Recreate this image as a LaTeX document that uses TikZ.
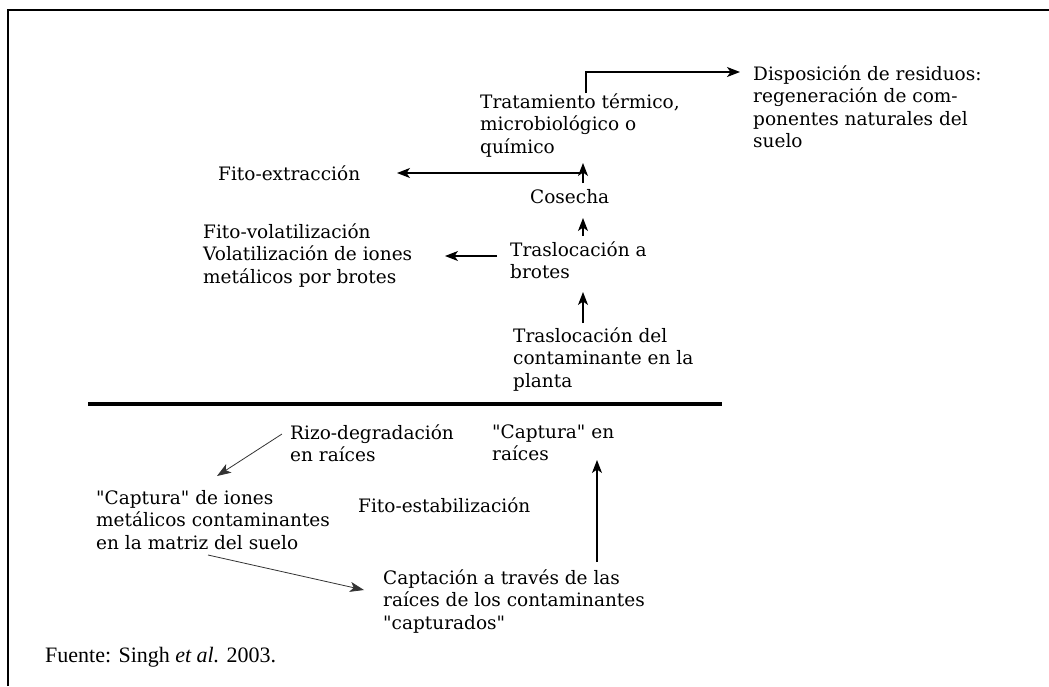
\documentclass[tikz,border=0pt]{standalone}
\usepackage{fontspec}
% plain families: straight double quotes are kept as typed
\newfontfamily\labelfont{DejaVu Serif}
\newfontfamily\srcfont{Liberation Serif}
\usetikzlibrary{arrows.meta,calc}
% uniform height for the first line of every label
\newcommand{\topstrut}{\rule{0pt}{17pt}}
\begin{document}
\begin{tikzpicture}[x=1pt,y=-1pt,
  lbl/.style={inner sep=0pt, anchor=north west, align=left,
              font=\labelfont\fontsize{18.5}{22.5}\selectfont},
  arr/.style={line width=1.2pt, -{Stealth[length=13pt,width=10pt,inset=3.5pt]}},
  slant/.style={line width=0.8pt, draw=black!80,
                -{Stealth[length=14pt,width=10pt,inset=3.5pt]}}]
\useasboundingbox (0,0) rectangle (1049,686);
\fill[white] (0,0) rectangle (1049,686);
% frame
\draw[line width=2.2pt] (8,686) -- (8,10) -- (1049,10);

% upper part: the plant
\node[lbl] (disp) at (753,63) {\topstrut Disposición de residuos:\\regeneración de com-\\ponentes naturales del\\suelo};
\node[lbl] (trat) at (480,91) {\topstrut Tratamiento térmico,\\microbiológico o\\químico};
\node[lbl] (fext) at (218,163) {\topstrut Fito-extracción};
\node[lbl] (cos) at (530,186) {\topstrut Cosecha};
\node[lbl] (fvol) at (203,221) {\topstrut Fito-volatilización\\Volatilización de iones\\metálicos por brotes};
\node[lbl] (trasA) at (510,239) {\topstrut Traslocación a\\brotes};
\node[lbl] (trasD) at (513,325) {\topstrut Traslocación del\\contaminante en la\\planta};

% soil surface
\draw[line width=4pt] (88,404) -- (722,404);

% lower part: the soil
\node[lbl] (rizo) at (290,422) {\topstrut Rizo-degradación\\en raíces};
\node[lbl] (capen) at (492,421) {\topstrut "Captura" en\\raíces};
\node[lbl] (capio) at (96,487) {\topstrut "Captura" de iones\\metálicos contaminantes\\en la matriz del suelo};
\node[lbl] (fest) at (358,495) {\topstrut Fito-estabilización};
\node[lbl] (capt) at (383,567) {\topstrut Captación a través de las\\raíces de los contaminantes\\"capturados"};

\node[inner sep=0pt, anchor=north west, font=\srcfont\fontsize{22}{24}\selectfont] (src) at (45,645)
  {\topstrut Fuente: Singh \textit{et al.} 2003.};

% connectors, upper part
\draw[arr] ($(trat.north west)+(106,2)$) |- ($(disp.north west)+(-13,9)$);
\draw[arr] ($(cos.north west)+(53,-3)$) -- ($(trat.north west)+(103,72)$);
\draw[arr] ($(cos.north west)+(51,-13)$) -- ($(fext.north west)+(179,10)$);
\draw[arr] ($(trasA.north west)+(73,-3)$) -- ($(cos.north west)+(53,32)$);
\draw[arr] ($(trasA.north west)+(-13,17)$) -- ($(fvol.north west)+(242,35)$);
\draw[arr] ($(trasD.north west)+(70,-2)$) -- ($(trasA.north west)+(73,53)$);

% connectors, lower part
\draw[slant] ($(rizo.north west)+(-8,12)$) -- ($(capio.north west)+(121,-11)$);
\draw[slant] ($(capio.north west)+(112,68)$) -- ($(capt.north west)+(-19,23)$);
\draw[arr] ($(capt.north west)+(214,-5)$) -- ($(capen.north west)+(105,39)$);
\end{tikzpicture}
\end{document}
